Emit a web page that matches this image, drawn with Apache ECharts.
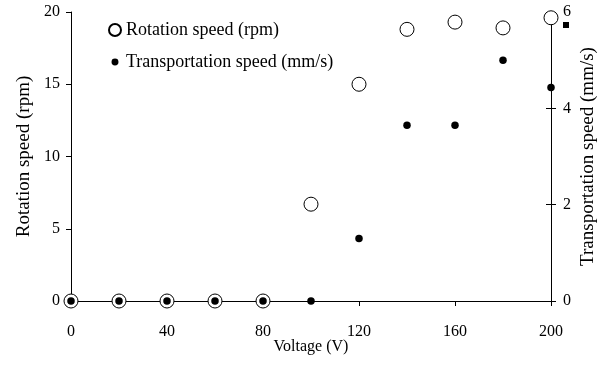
<!DOCTYPE html>
<html>
<head>
<meta charset="utf-8">
<script src="https://cdn.jsdelivr.net/npm/echarts@6/dist/echarts.min.js"></script>
<style>
  html, body { margin: 0; padding: 0; background: #fff; }
  #chart { width: 602px; height: 372px; }
</style>
</head>
<body>
<div id="chart"></div>
<script>
// data
const voltage = [0, 20, 40, 60, 80, 100, 120, 140, 160, 180, 200];
const rotationSpeed = [0, 0, 0, 0, 0, 6.7, 15, 18.8, 19.3, 18.9, 19.6];   // rpm, left axis
const transportSpeed = [0, 0, 0, 0, 0, 0, 1.3, 3.65, 3.65, 5.0, 4.43];    // mm/s, right axis

const font = 'Liberation Serif';
const black = '#000';

const pairs = (xs, ys) => xs.map((x, i) => [x, ys[i]]);

const chart = echarts.init(document.getElementById('chart'));

const option = {
  animation: false,
  backgroundColor: '#fff',
  textStyle: { fontFamily: font, color: black },
  grid: { left: 71, right: 51, top: 12, bottom: 71, outerBoundsMode: 'none', containLabel: false },
  legend: {
    orient: 'vertical',
    left: 103,
    top: 16,
    itemGap: 14,
    itemWidth: 12,
    itemHeight: 12,
    textStyle: { fontFamily: font, fontSize: 18, color: black },
    data: [
      { name: 'Rotation speed (rpm)', icon: 'circle' },
      // smaller dot inside the same box
      { name: 'Transportation speed (mm/s)', icon: 'path://M0,0M10,10M5,2.1A2.9,2.9,0,1,1,5,7.9A2.9,2.9,0,1,1,5,2.1Z' }
    ]
  },
  xAxis: {
    type: 'value',
    min: 0, max: 200, interval: 40,
    name: 'Voltage (V)',
    nameLocation: 'middle',
    nameGap: 38,
    nameMoveOverlap: false,
    nameTextStyle: { fontFamily: font, fontSize: 16, color: black },
    axisLine: { lineStyle: { color: black, width: 1 } },
    axisTick: { show: true, length: 5, lineStyle: { color: black } },
    axisLabel: { fontFamily: font, fontSize: 16, color: black, margin: 23 },
    splitLine: { show: false }
  },
  yAxis: [
    {
      type: 'value',
      position: 'left',
      min: 0, max: 20, interval: 5,
      name: 'Rotation speed (rpm)',
      nameLocation: 'middle',
      nameGap: 37,
      nameMoveOverlap: false,
      nameTextStyle: { fontFamily: font, fontSize: 19, color: black },
      axisLine: { show: true, lineStyle: { color: black, width: 1 } },
      axisTick: { show: true, length: 5, lineStyle: { color: black } },
      axisLabel: { fontFamily: font, fontSize: 16, color: black, margin: 11 },
      splitLine: { show: false }
    },
    {
      type: 'value',
      position: 'right',
      min: 0, max: 6, interval: 2,
      name: 'Transportation speed (mm/s)',
      nameLocation: 'middle',
      nameGap: 28,
      nameRotate: 90,
      nameMoveOverlap: false,
      nameTextStyle: { fontFamily: font, fontSize: 19, color: black },
      axisLine: { show: true, lineStyle: { color: black, width: 1 } },
      axisTick: { show: true, length: 5, lineStyle: { color: black } },
      axisLabel: { fontFamily: font, fontSize: 16, color: black, margin: 12 },
      splitLine: { show: false }
    },
    {
      // inner half of the crossing ticks on the right axis
      type: 'value',
      position: 'right',
      min: 0, max: 6, interval: 2,
      axisLine: { show: false },
      axisTick: { show: true, inside: true, length: 5, lineStyle: { color: black } },
      axisLabel: { show: false },
      splitLine: { show: false }
    }
  ],
  series: [
    {
      name: 'Rotation speed (rpm)',
      type: 'scatter',
      yAxisIndex: 0,
      symbol: 'circle',
      symbolSize: 14,
      itemStyle: { color: '#fff', borderColor: black, borderWidth: 1, opacity: 1 },
      data: pairs(voltage, rotationSpeed),
      z: 2
    },
    {
      name: 'Transportation speed (mm/s)',
      type: 'scatter',
      yAxisIndex: 1,
      symbol: 'circle',
      symbolSize: 7.5,
      itemStyle: { color: black, opacity: 1 },
      data: pairs(voltage, transportSpeed),
      z: 3
    }
  ],
  graphic: [
    { type: 'rect', left: 563, top: 22, shape: { width: 6, height: 6 }, style: { fill: black } }
  ]
};

chart.setOption(option);
</script>
</body>
</html>
